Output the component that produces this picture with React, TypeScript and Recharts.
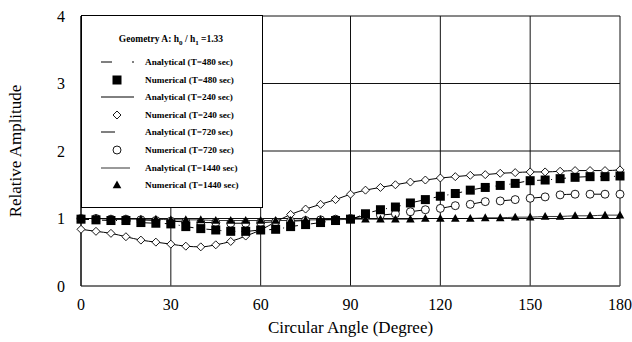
import React from "react";
import { LineChart, Line, XAxis, YAxis, CartesianGrid, Label } from "recharts";

const FONT = '"Liberation Serif", "Times New Roman", serif';

// circular angle, degrees
const angles = [
  0, 5, 10, 15, 20, 25, 30, 35, 40, 45, 50, 55, 60, 65, 70, 75, 80, 85, 90, 95,
  100, 105, 110, 115, 120, 125, 130, 135, 140, 145, 150, 155, 160, 165, 170, 175, 180,
];

const t240Values = [
  0.84, 0.81, 0.78, 0.73, 0.68, 0.65, 0.62, 0.59, 0.58, 0.61, 0.66, 0.74, 0.83, 0.95,
  1.06, 1.14, 1.21, 1.28, 1.36, 1.42, 1.46, 1.5, 1.54, 1.57, 1.6, 1.62, 1.64, 1.65,
  1.67, 1.68, 1.69, 1.69, 1.7, 1.71, 1.71, 1.71, 1.72,
];

const t480Values = [
  0.99, 0.98, 0.97, 0.97, 0.94, 0.93, 0.92, 0.88, 0.85, 0.83, 0.81, 0.81, 0.83, 0.84,
  0.88, 0.91, 0.94, 0.97, 0.99, 1.07, 1.13, 1.17, 1.23, 1.28, 1.33, 1.37, 1.42, 1.46,
  1.49, 1.52, 1.56, 1.57, 1.59, 1.61, 1.62, 1.62, 1.63,
];

const t720Values = [
  1.0, 1.0, 0.99, 0.99, 0.98, 0.97, 0.96, 0.95, 0.94, 0.94, 0.93, 0.93, 0.94, 0.95,
  0.96, 0.97, 0.98, 0.99, 1.0, 1.04, 1.05, 1.07, 1.1, 1.13, 1.15, 1.19, 1.21, 1.25,
  1.26, 1.28, 1.3, 1.32, 1.35, 1.36, 1.36, 1.36, 1.36,
];

const t1440Values = [
  1.0, 1.0, 0.99, 0.99, 0.99, 0.99, 0.98, 0.98, 0.98, 0.97, 0.97, 0.97, 0.97, 0.97,
  0.97, 0.98, 0.98, 0.98, 0.99, 0.99, 0.99, 0.99, 0.99, 1.0, 1.0, 1.0, 1.0, 1.01,
  1.01, 1.02, 1.02, 1.03, 1.03, 1.04, 1.04, 1.05, 1.05,
];

const xTicks = [0, 30, 60, 90, 120, 150, 180];
const yTicks = [0, 1, 2, 3, 4];

const rows = angles.map((angle, i) => ({
  angle,
  t240: t240Values[i],
  t480: t480Values[i],
  t720: t720Values[i],
  t1440: t1440Values[i],
}));

type DotProps = { cx?: number; cy?: number; index?: number };

const SquareDot = ({ cx = 0, cy = 0, index }: DotProps) => (
  <rect key={`sq-${index}`} x={cx - 4.5} y={cy - 4.5} width={9} height={9} fill="#000" />
);

const DiamondDot = ({ cx = 0, cy = 0, index }: DotProps) => (
  <path
    key={`di-${index}`}
    d={`M${cx},${cy - 4}L${cx + 4},${cy}L${cx},${cy + 4}L${cx - 4},${cy}Z`}
    fill="#fff"
    stroke="#000"
    strokeWidth={0.9}
  />
);

const CircleDot = ({ cx = 0, cy = 0, index }: DotProps) => (
  <circle key={`ci-${index}`} cx={cx} cy={cy} r={4} fill="#fff" stroke="#000" strokeWidth={0.9} />
);

const TriangleDot = ({ cx = 0, cy = 0, index }: DotProps) => (
  <path
    key={`tr-${index}`}
    d={`M${cx},${cy - 4.5}L${cx + 4.3},${cy + 3.3}L${cx - 4.3},${cy + 3.3}Z`}
    fill="#000"
  />
);

const legendText = {
  fontFamily: FONT,
  fontSize: 9.2,
  fontWeight: 700,
  fill: "#000",
} as const;

function GeometryLegend() {
  const entries = [
    { label: "Analytical (T=480 sec)", y: 46 },
    { label: "Numerical (T=480 sec)", y: 64 },
    { label: "Analytical (T=240 sec)", y: 81 },
    { label: "Numerical (T=240 sec)", y: 99 },
    { label: "Analytical (T=720 sec)", y: 116 },
    { label: "Numerical (T=720 sec)", y: 134 },
    { label: "Analytical (T=1440 sec)", y: 152 },
    { label: "Numerical (T=1440 sec)", y: 169 },
  ];
  const mx = 35;
  return (
    <div
      style={{
        position: "absolute",
        left: 81,
        top: 15,
        width: 180,
        height: 191,
        border: "1px solid #000",
        background: "#fff",
      }}
    >
      <svg width={180} height={191}>
        <text x={89} y={26} textAnchor="middle" {...legendText} fontSize={9.5}>
          Geometry A: h
          <tspan dy={3} fontSize={7}>0</tspan>
          <tspan dy={-3}> / h</tspan>
          <tspan dy={3} fontSize={7}>1</tspan>
          <tspan dy={-3}> =1.33</tspan>
        </text>
        <line x1={19} x2={30} y1={46} y2={46} stroke="#000" strokeWidth={1} />
        <line x1={50} x2={52} y1={46} y2={46} stroke="#000" strokeWidth={1} />
        <SquareDot cx={mx} cy={64} />
        <line x1={19} x2={52} y1={81} y2={81} stroke="#000" strokeWidth={1} />
        <DiamondDot cx={mx} cy={99} />
        <line x1={19} x2={33} y1={116} y2={116} stroke="#000" strokeWidth={1} />
        <CircleDot cx={mx} cy={134} />
        <line x1={19} x2={48} y1={152} y2={152} stroke="#000" strokeWidth={0.8} />
        <TriangleDot cx={mx} cy={169} />
        {entries.map((e) => (
          <text key={e.label} x={63} y={e.y + 3} {...legendText}>
            {e.label}
          </text>
        ))}
      </svg>
    </div>
  );
}

export default function App() {
  const tick = { fontFamily: FONT, fontSize: 16, fill: "#000" };
  return (
    <div style={{ position: "relative", width: 632, height: 342, background: "#fff" }}>
      <style>{"body{margin:0}"}</style>
      <LineChart width={632} height={342} data={rows} margin={{ top: 16, right: 12, bottom: 0, left: 0 }}>
        <CartesianGrid stroke="#111" strokeWidth={1} />
        <XAxis
          dataKey="angle"
          type="number"
          domain={[0, 180]}
          ticks={xTicks}
          tick={tick}
          tickLine={false}
          tickMargin={7}
          height={56}
          axisLine={{ stroke: "#666" }}
        >
          <Label
            value="Circular Angle (Degree)"
            position="insideBottom"
            offset={9}
            style={{ fontFamily: FONT, fontSize: 17, fill: "#000" }}
          />
        </XAxis>
        <YAxis
          type="number"
          domain={[0, 4]}
          ticks={yTicks}
          tick={tick}
          tickLine={false}
          tickMargin={10}
          width={81}
          axisLine={{ stroke: "#000" }}
        >
          <Label
            value="Relative Amplitude"
            angle={-90}
            position="insideLeft"
            offset={15}
            style={{ fontFamily: FONT, fontSize: 17, fill: "#000", textAnchor: "middle" }}
          />
        </YAxis>

        {/* analytical curves */}
        <Line dataKey="t240" type="monotone" stroke="#000" strokeWidth={1} dot={false} activeDot={false} isAnimationActive={false} />
        <Line dataKey="t480" type="monotone" stroke="#000" strokeWidth={1} strokeDasharray="8 6 1 6" dot={false} activeDot={false} isAnimationActive={false} />
        <Line dataKey="t720" type="monotone" stroke="#000" strokeWidth={1} strokeDasharray="14 16" dot={false} activeDot={false} isAnimationActive={false} />
        <Line dataKey="t1440" type="monotone" stroke="#000" strokeWidth={0.8} dot={false} activeDot={false} isAnimationActive={false} />

        {/* numerical results */}
        <Line dataKey="t240" stroke="none" dot={DiamondDot} activeDot={false} isAnimationActive={false} />
        <Line dataKey="t720" stroke="none" dot={CircleDot} activeDot={false} isAnimationActive={false} />
        <Line dataKey="t480" stroke="none" dot={SquareDot} activeDot={false} isAnimationActive={false} />
        <Line dataKey="t1440" stroke="none" dot={TriangleDot} activeDot={false} isAnimationActive={false} />
      </LineChart>
      <GeometryLegend />
    </div>
  );
}
